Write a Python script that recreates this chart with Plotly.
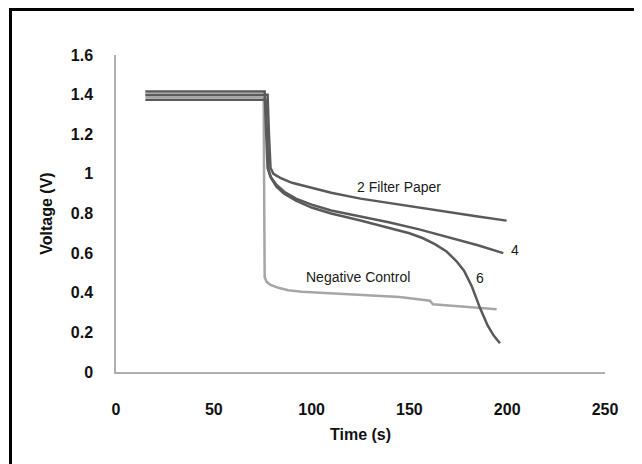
import plotly.graph_objects as go

# ---- data ----
t_2fp = [15, 77.5, 78.2, 79, 80.5, 84, 90, 100, 110, 125, 140, 155, 170, 185, 199.7]
v_2fp = [1.40, 1.40, 1.20, 1.03, 1.00, 0.98, 0.955, 0.93, 0.905, 0.875, 0.852, 0.828, 0.806, 0.785, 0.764]

t_4 = [15, 76, 76.8, 77.5, 79, 82, 86, 92, 100, 110, 125, 140, 155, 170, 185, 198]
v_4 = [1.416, 1.416, 1.20, 1.03, 0.985, 0.945, 0.91, 0.875, 0.845, 0.815, 0.785, 0.755, 0.72, 0.68, 0.64, 0.60]

t_6 = [15, 76.5, 77.2, 78, 79.5, 82, 86, 92, 100, 110, 125, 140, 150, 157, 163, 169, 174, 178, 182, 186, 190, 193, 196.3]
v_6 = [1.374, 1.374, 1.20, 1.02, 0.975, 0.935, 0.90, 0.865, 0.83, 0.80, 0.765, 0.726, 0.70, 0.675, 0.645, 0.608, 0.56, 0.51, 0.43, 0.325, 0.235, 0.185, 0.145]

t_neg = [15, 75.5, 75.7, 76, 77, 79, 83, 88, 95, 108, 125, 145, 160.5, 162, 175, 194.6]
v_neg = [1.389, 1.389, 1.0, 0.48, 0.455, 0.44, 0.425, 0.413, 0.405, 0.398, 0.39, 0.378, 0.36, 0.342, 0.332, 0.317]

x_ticks = [0, 50, 100, 150, 200, 250]
y_ticks = [0, 0.2, 0.4, 0.6, 0.8, 1.0, 1.2, 1.4, 1.6]
y_tick_text = ["0", "0.2", "0.4", "0.6", "0.8", "1", "1.2", "1.4", "1.6"]

labels = ["2 Filter Paper", "4", "6", "Negative Control"]
label_x = [144.7, 203.8, 186.1, 123.6]
label_y = [0.936, 0.616, 0.473, 0.481]

DARK = "#5a5a5a"
LIGHT = "#a6a6a6"

# the page places the figure 8px in from the top-left corner
W, H = 634, 456
L, T, PW, PH = 108, 47, 489, 317

fig = go.Figure()
for t, v, c in [(t_neg, v_neg, LIGHT), (t_6, v_6, DARK), (t_4, v_4, DARK), (t_2fp, v_2fp, DARK)]:
    fig.add_trace(go.Scatter(x=t, y=v, mode="lines", line=dict(color=c, width=2.5),
                             showlegend=False, hoverinfo="skip"))

for txt, x, y in zip(labels, label_x, label_y):
    fig.add_annotation(x=x, y=y, text=txt, showarrow=False, xref="x", yref="y",
                       font=dict(family="Liberation Sans, Arial", size=14, color="#1a1a1a"))

# outer black frame
fig.add_shape(type="rect", xref="paper", yref="paper",
              x0=(2.5 - L) / PW, x1=(632.5 - L) / PW,
              y0=(T + PH - 480) / PH, y1=(T + PH - 1.5) / PH,
              line=dict(color="black", width=3), fillcolor="rgba(0,0,0,0)")

tickfont = dict(family="Liberation Sans, Arial", size=16, color="#111111", weight="bold")
titlefont = dict(family="Liberation Sans, Arial", size=16, color="#111111", weight="bold")

fig.update_layout(
    width=W, height=H,
    margin=dict(l=L, r=W - L - PW, t=T, b=H - T - PH),
    paper_bgcolor="white", plot_bgcolor="white",
    xaxis=dict(range=[0, 250], tickvals=x_ticks, showgrid=False, zeroline=False,
               showline=True, linecolor="#b0b0b0", linewidth=1.5, ticks="",
               ticklabelstandoff=22, tickfont=tickfont,
               title=dict(text="Time (s)", font=titlefont, standoff=12)),
    yaxis=dict(range=[0, 1.6], tickvals=y_ticks, ticktext=y_tick_text, showgrid=False,
               zeroline=False, showline=True, linecolor="#b0b0b0", linewidth=1.5, ticks="",
               ticklabelstandoff=18, tickfont=tickfont,
               title=dict(text="Voltage (V)", font=titlefont, standoff=14)),
)

fig.write_html("out.html")
